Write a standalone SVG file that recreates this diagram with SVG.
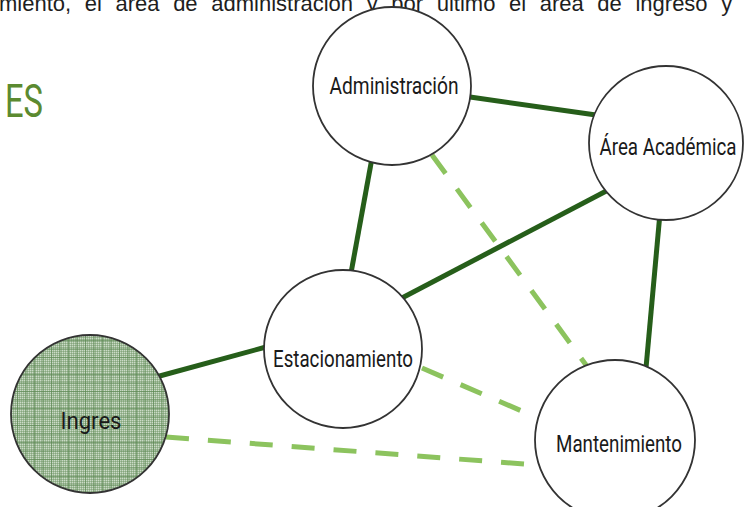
<svg xmlns="http://www.w3.org/2000/svg" width="745" height="507" viewBox="0 0 745 507">
  <style>
    .bg { fill: #ffffff; }
    .body-text { font-family: "Liberation Sans", Arial, sans-serif; font-size: 22px; fill: #1e1e1e; word-spacing: 7.5px; }
    .heading { font-family: Roboto, "Liberation Sans", sans-serif; font-weight: 400; font-size: 46px; fill: #5b8a30; }
    .node-circle { fill: #ffffff; stroke: #333333; stroke-width: 1.8; }
    .node-label { font-family: "Liberation Sans Narrow", Roboto, "Liberation Sans", sans-serif; font-weight: 400; font-size: 24px; fill: #1a1a1a; }
    .link-strong { stroke: #265e1a; stroke-width: 5; fill: none; }
    .link-weak { stroke: #8cc35e; stroke-width: 5; fill: none; stroke-dasharray: 23 19; }
  </style>
  <defs>
    <!-- fine dither for the entrance node -->
    <pattern id="dither" width="2" height="2" patternUnits="userSpaceOnUse">
      <rect width="2" height="2" fill="#a0ba99"/>
      <rect width="1" height="1" fill="#cbdbc7"/>
      <rect x="1" y="1" width="1" height="1" fill="#86a77e"/>
    </pattern>
    <!-- square mesh drawn over the dither -->
    <pattern id="mesh" width="8.5" height="8.5" patternUnits="userSpaceOnUse">
      <rect x="0" y="0" width="8.5" height="1" fill="#5b8751" opacity="0.65"/>
      <rect x="0" y="0" width="1" height="8.5" fill="#5b8751" opacity="0.65"/>
    </pattern>
  </defs>

  <rect class="bg" width="745" height="507"/>

  <!-- running paragraph line and section heading -->
  <text class="body-text" x="-1" y="11">miento, el área de administración y por último el área de ingreso y</text>
  <text class="heading" x="5" y="117" textLength="38" lengthAdjust="spacingAndGlyphs">ES</text>

  <!-- connectors -->
  <g id="connectors">
    <line class="link-strong" x1="470" y1="97" x2="596" y2="115"/>
    <line class="link-strong" x1="372" y1="158" x2="351" y2="273"/>
    <line class="link-strong" x1="612" y1="188" x2="400" y2="299"/>
    <line class="link-strong" x1="660" y1="213" x2="646" y2="368"/>
    <line class="link-strong" x1="266" y1="347" x2="156" y2="377"/>
    <line class="link-weak" x1="432" y1="155" x2="589" y2="369"/>
    <line class="link-weak" x1="422" y1="368" x2="538" y2="418"/>
    <line class="link-weak" x1="166" y1="437" x2="537" y2="465"/>
  </g>

  <!-- nodes -->
  <g id="node-administracion">
    <circle class="node-circle" cx="392" cy="86" r="79"/>
    <text class="node-label" x="394" y="94" text-anchor="middle" textLength="129" lengthAdjust="spacingAndGlyphs">Administración</text>
  </g>

  <g id="node-area-academica">
    <circle class="node-circle" cx="666" cy="143" r="77"/>
    <text class="node-label" x="668" y="155" text-anchor="middle" textLength="137" lengthAdjust="spacingAndGlyphs">Área Académica</text>
  </g>

  <g id="node-estacionamiento">
    <circle class="node-circle" cx="343" cy="349" r="79"/>
    <text class="node-label" x="343" y="367" text-anchor="middle" textLength="140" lengthAdjust="spacingAndGlyphs">Estacionamiento</text>
  </g>

  <g id="node-mantenimiento">
    <circle class="node-circle" cx="615" cy="440" r="80"/>
    <text class="node-label" x="619" y="452" text-anchor="middle" textLength="126" lengthAdjust="spacingAndGlyphs">Mantenimiento</text>
  </g>

  <g id="node-ingres">
    <circle cx="90" cy="414" r="79" fill="url(#dither)"/>
    <circle cx="90" cy="414" r="79" fill="url(#mesh)"/>
    <circle cx="90" cy="414" r="79" fill="none" stroke="#333333" stroke-width="1.8"/>
    <text class="node-label" x="91" y="429" text-anchor="middle" textLength="61" lengthAdjust="spacingAndGlyphs" fill="#2a2a2a">Ingres</text>
  </g>
</svg>
